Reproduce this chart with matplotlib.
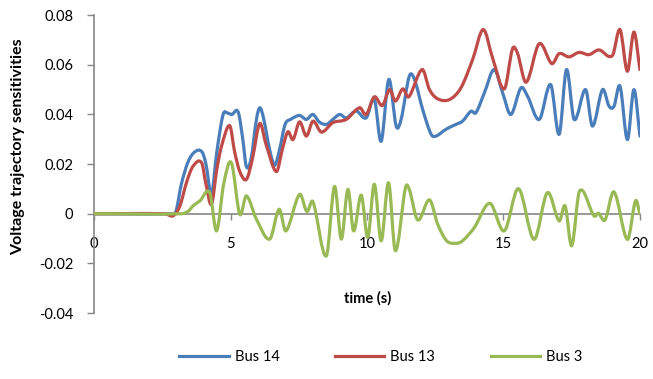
import matplotlib.pyplot as plt
from matplotlib.path import Path
from matplotlib.patches import PathPatch
from matplotlib.lines import Line2D

plt.rcParams['font.family'] = ['Lato', 'DejaVu Sans']

# Bus 14
t_bus14 = [0, 2.8, 3.0, 3.2, 3.45, 3.7, 3.95, 4.1, 4.3, 4.5, 4.73, 4.9, 5.05, 5.28,
           5.45, 5.58, 5.75, 5.95, 6.07, 6.2, 6.45, 6.62, 6.8, 7.0, 7.2, 7.53, 7.78,
           8.02, 8.25, 8.51, 8.75, 9.0, 9.24, 9.6, 9.97, 10.27, 10.52, 10.8, 11.07,
           11.25, 11.55, 11.74, 12.04, 12.35, 12.53, 12.89, 13.26, 13.5, 13.81, 13.99,
           14.3, 14.66, 14.97, 15.27, 15.64, 15.88, 16.31, 16.73, 17.04, 17.31, 17.59,
           18.01, 18.26, 18.63, 18.87, 19.05, 19.27, 19.54, 19.78, 20.0]
v_bus14 = [0, 0, 0.001, 0.012, 0.021, 0.025, 0.025, 0.02, 0.008, 0.025, 0.040, 0.0405,
           0.040, 0.041, 0.030, 0.019, 0.022, 0.038, 0.0427, 0.039, 0.025, 0.0195, 0.026,
           0.036, 0.038, 0.0396, 0.038, 0.040, 0.037, 0.036, 0.038, 0.040, 0.0386, 0.0414,
           0.0386, 0.0461, 0.0292, 0.0541, 0.0353, 0.038, 0.0554, 0.0541, 0.042, 0.032,
           0.0313, 0.034, 0.036, 0.0373, 0.0413, 0.0407, 0.0487, 0.0581, 0.0487, 0.040,
           0.0507, 0.0474, 0.038, 0.052, 0.032, 0.0581, 0.038, 0.050, 0.0353, 0.050,
           0.0433, 0.0433, 0.0514, 0.0299, 0.050, 0.0313]

# Bus 13
t_bus13 = [0, 2.6, 2.9, 3.14, 3.4, 3.63, 3.94, 4.1, 4.3, 4.5, 4.67, 4.97, 5.15, 5.34,
           5.58, 5.8, 6.07, 6.3, 6.68, 6.9, 7.1, 7.29, 7.53, 7.78, 8.02, 8.33, 8.75,
           9.24, 9.73, 9.97, 10.27, 10.56, 10.83, 11.04, 11.31, 11.53, 12.02, 12.29,
           12.59, 13.02, 13.44, 13.87, 14.26, 14.6, 15.03, 15.33, 15.51, 15.83, 16.31,
           16.77, 17.04, 17.4, 17.77, 18.13, 18.5, 18.99, 19.27, 19.54, 19.78, 20.0]
v_bus13 = [0, 0, -0.0008, 0.003, 0.013, 0.0192, 0.0206, 0.012, 0.0038, 0.018, 0.0272,
           0.0355, 0.025, 0.017, 0.0138, 0.022, 0.0363, 0.028, 0.017, 0.026, 0.033,
           0.0299, 0.037, 0.0313, 0.0373, 0.0329, 0.0367, 0.038, 0.0427, 0.040, 0.0471,
           0.0436, 0.050, 0.0454, 0.0503, 0.0471, 0.0581, 0.050, 0.0463, 0.046, 0.0507,
           0.0621, 0.0742, 0.0628, 0.0503, 0.0664, 0.0648, 0.053, 0.0685, 0.0605, 0.0645,
           0.0632, 0.065, 0.0641, 0.066, 0.0637, 0.0742, 0.0574, 0.0732, 0.0581]

# Bus 3
t_bus3 = [0, 3.2, 3.45, 3.63, 3.88, 4.24, 4.49, 4.75, 5.03, 5.34, 5.58, 5.95, 6.44,
          6.78, 7.03, 7.53, 7.8, 8.02, 8.51, 8.81, 9.06, 9.3, 9.51, 9.79, 10.03, 10.27,
          10.52, 10.79, 11.04, 11.41, 11.55, 11.86, 12.29, 12.59, 12.92, 13.26, 13.5,
          13.93, 14.5, 15.03, 15.55, 16.12, 16.61, 17.04, 17.26, 17.5, 17.79, 18.32,
          18.48, 18.72, 19.05, 19.54, 19.84, 20.0]
v_bus3 = [0, 0, 0.001, 0.0032, 0.0052, 0.0085, -0.0069, 0.012, 0.0206, -0.0002, 0.0072,
          -0.0022, -0.0102, 0.0018, -0.0069, 0.0078, 0.0009, 0.0048, -0.017, 0.011,
          -0.0102, 0.0098, -0.0069, 0.0075, -0.0095, 0.0119, -0.0109, 0.0125, -0.0149,
          0.0105, 0.0098, -0.0025, 0.0056, -0.0042, -0.0109, -0.0119, -0.0109, -0.0056,
          0.0042, -0.0069, 0.0101, -0.0103, 0.0085, -0.0029, 0.0031, -0.0129, 0.0092,
          -0.0009, 0.0002, -0.0025, 0.0088, -0.0103, 0.0052, 0.0000]

y_ticks = [-0.04, -0.02, 0, 0.02, 0.04, 0.06, 0.08]
y_labels = ['-0.04', '-0.02', '0', '0.02', '0.04', '0.06', '0.08']
x_ticks = [0, 5, 10, 15, 20]


def smooth_path(x, y):
    # smoothed line like Excel: cubic Hermite segments through the data points
    n = len(x)
    slopes = []
    for i in range(n):
        a = max(i - 1, 0)
        b = min(i + 1, n - 1)
        slopes.append((y[b] - y[a]) / (x[b] - x[a]))
    verts = [(x[0], y[0])]
    codes = [Path.MOVETO]
    for i in range(n - 1):
        h = (x[i + 1] - x[i]) / 3
        verts += [(x[i] + h, y[i] + slopes[i] * h),
                  (x[i + 1] - h, y[i + 1] - slopes[i + 1] * h),
                  (x[i + 1], y[i + 1])]
        codes += [Path.CURVE4] * 3
    return Path(verts, codes)


fig = plt.figure(figsize=(6.53, 3.79), dpi=100)
ax = fig.add_axes([0.144, 0.174, 0.836, 0.786])

lw = 2.3
series = [(t_bus14, v_bus14, '#4a7ebb', 'Bus 14'),
          (t_bus13, v_bus13, '#be4b48', 'Bus 13'),
          (t_bus3, v_bus3, '#98b954', 'Bus 3')]
handles = []
for t, v, c, name in series:
    ax.add_patch(PathPatch(smooth_path(t, v), fill=False, edgecolor=c, lw=lw,
                           joinstyle='round', capstyle='round', zorder=3))
    handles.append(Line2D([], [], color=c, lw=lw, label=name))

ax.set_xlim(0, 20)
ax.set_ylim(-0.04, 0.08)
ax.set_xticks(x_ticks)
ax.set_yticks(y_ticks)
ax.set_yticklabels(y_labels)

for s in ['top', 'right']:
    ax.spines[s].set_visible(False)
ax.spines['bottom'].set_position(('data', 0))
ax.spines['bottom'].set_zorder(1)
for s in ['left', 'bottom']:
    ax.spines[s].set_color('#868686')
    ax.spines[s].set_linewidth(1.2)

ax.tick_params(axis='y', direction='out', length=5, width=1, color='#868686',
               pad=10, labelsize=10.5)
ax.tick_params(axis='x', direction='out', length=4, width=1, color='#868686',
               pad=13, labelsize=10.5)

fig.text(0.563, 0.214, 'time (s)', ha='center', va='center', fontsize=10.5,
         fontweight='bold')
fig.text(0.027, 0.612, 'Voltage trajectory sensitivities', ha='center', va='center',
         rotation=90, fontsize=11.5, fontweight='bold')

fig.legend(handles=handles, loc='center', bbox_to_anchor=(0.583, 0.058), ncol=3,
           frameon=False, fontsize=10.5, handlelength=3.4, columnspacing=3.8,
           handletextpad=0.4)

fig.savefig('out.png', dpi=100)
